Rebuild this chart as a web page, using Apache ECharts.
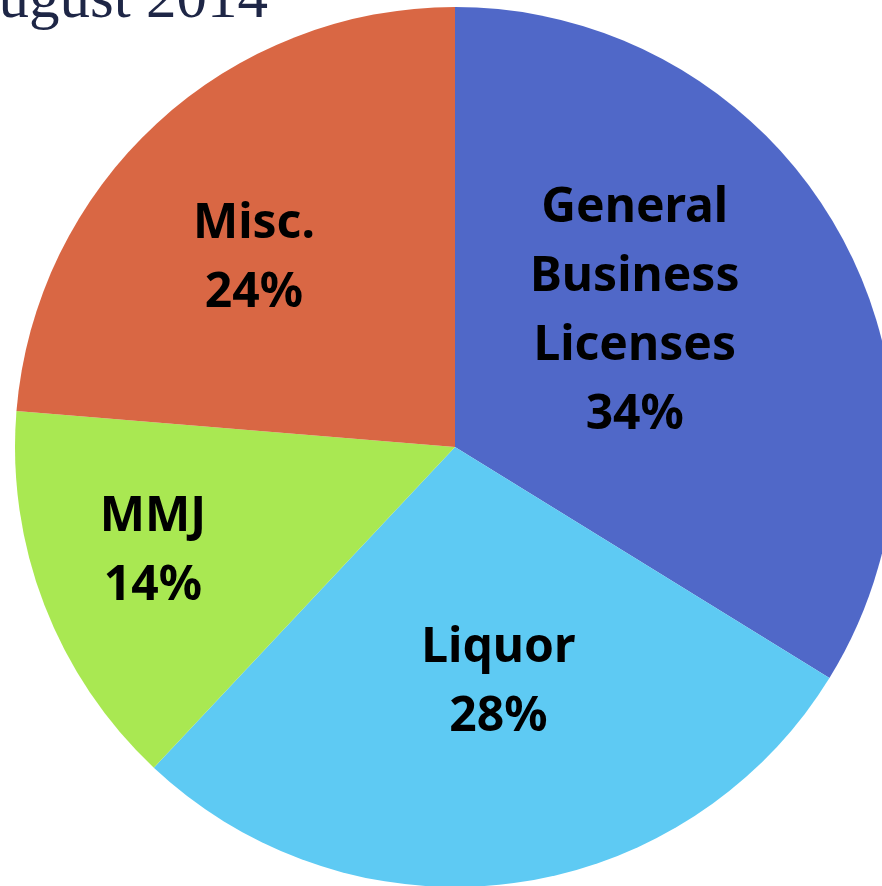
<!DOCTYPE html>
<html>
<head>
<meta charset="utf-8">
<title>August 2014</title>
<script src="https://cdn.jsdelivr.net/npm/echarts@6/dist/echarts.min.js"></script>
<style>
    html, body { margin: 0; padding: 0; background: #ffffff; }
    #main { width: 882px; height: 886px; }
</style>
</head>
<body>
<div id="main"></div>
<script>
    // slices, clockwise from 12 o'clock (labels show rounded shares)
    var categories = ['General\nBusiness\nLicenses', 'Liquor', 'MMJ', 'Misc.'];
    var shares = [33.8, 28.2, 14.3, 23.7];
    var sliceColors = ['#5068C8', '#5ECAF3', '#A9E852', '#D96744'];

    var myChart = echarts.init(document.getElementById('main'));

    // nudges so the labels sit where the original put them
    var labelShift = [[-15, -27], [14, 15], [-94, 25], [-50, -24]];

    var option = {
        animation: false,
        color: sliceColors,
        graphic: [
            {
                type: 'text',
                right: 614,
                top: -30,
                style: {
                    text: 'August 2014',
                    font: '61px "Liberation Serif"',
                    fill: '#1E2646'
                }
            }
        ],
        series: [
            {
                type: 'pie',
                center: [455, 447],
                radius: 440,
                startAngle: 90,
                clockwise: true,
                silent: true,
                itemStyle: { borderWidth: 0 },
                label: {
                    position: 'inside',
                    color: '#000000',
                    fontFamily: 'Noto Sans',
                    fontWeight: 'bold',
                    fontSize: 48,
                    lineHeight: 69,
                    align: 'center',
                    formatter: function (p) {
                        return p.name + '\n' + Math.round(p.percent) + '%';
                    }
                },
                labelLayout: function (params) {
                    var s = labelShift[params.dataIndex];
                    return { dx: s[0], dy: s[1] };
                },
                data: categories.map(function (name, i) {
                    return { name: name, value: shares[i] };
                })
            }
        ]
    };
    myChart.setOption(option);
</script>
</body>
</html>
